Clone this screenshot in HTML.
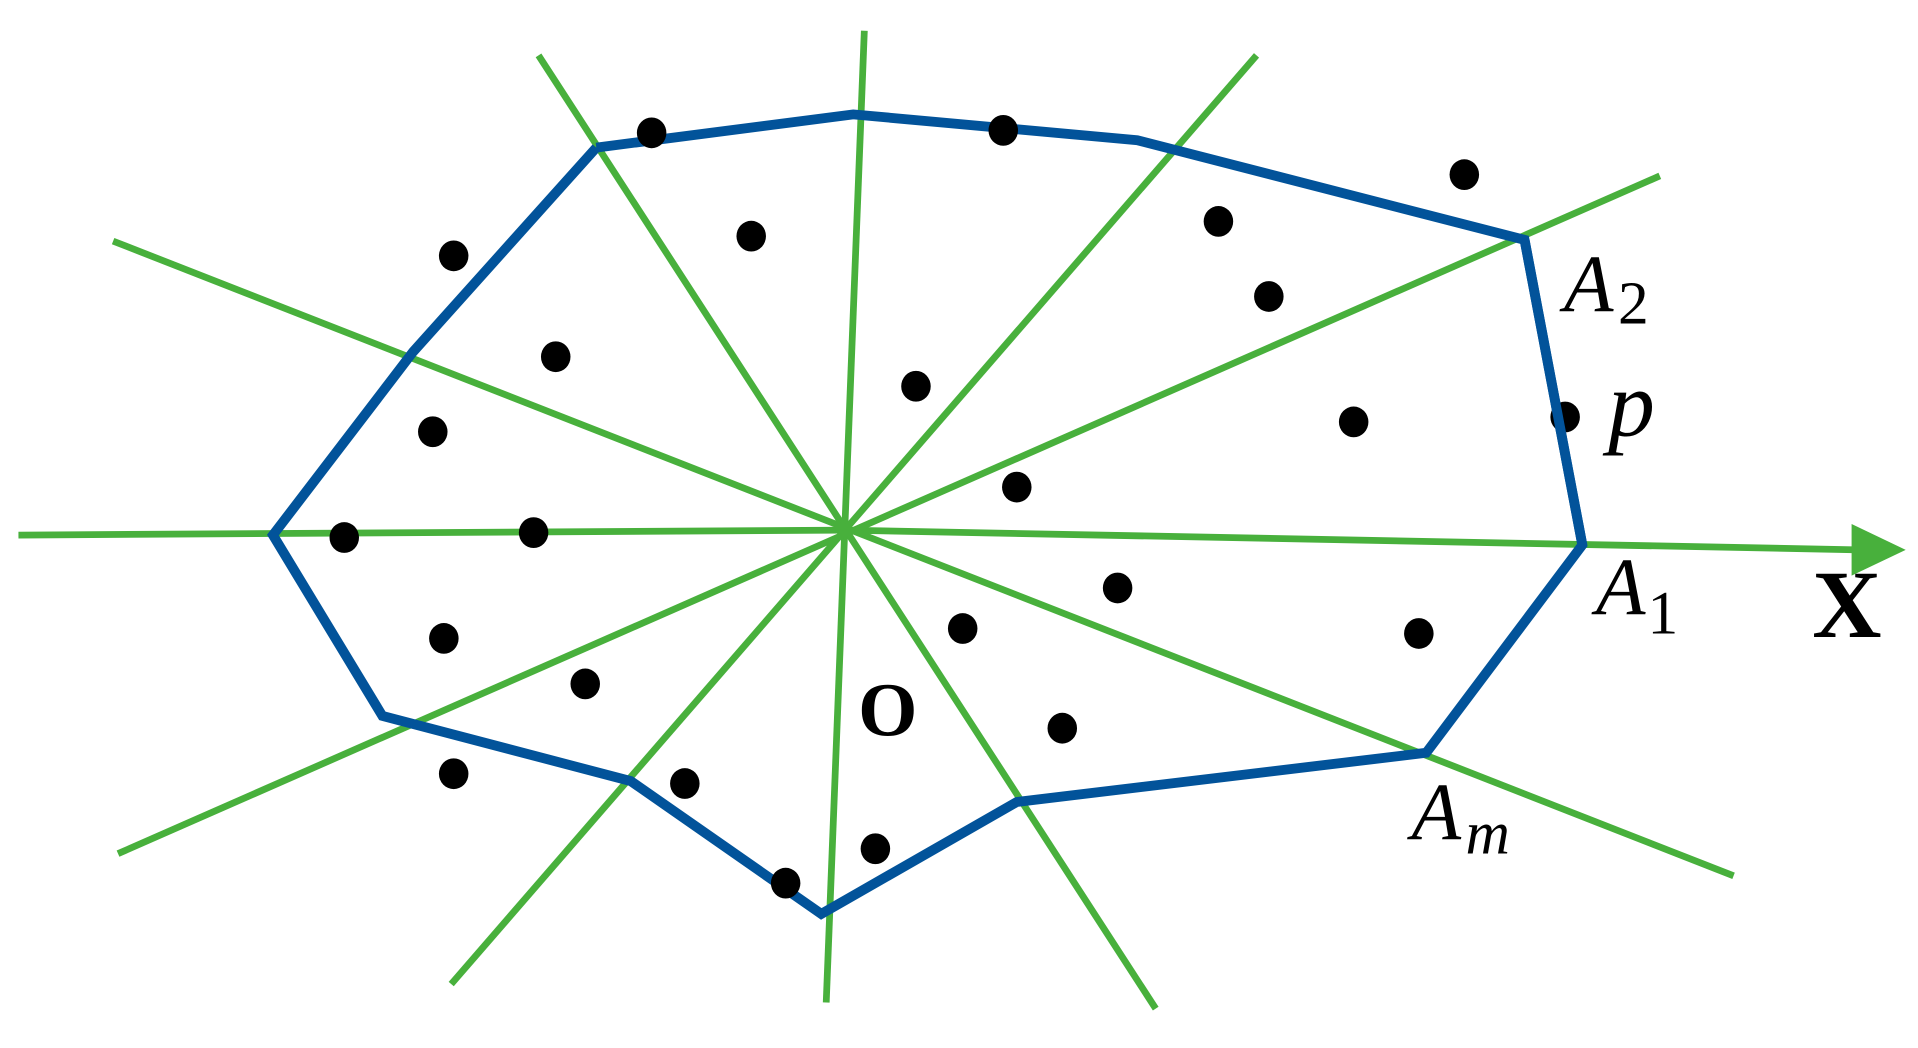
<!DOCTYPE html>
<html><head><meta charset="utf-8"><style>
html,body{margin:0;padding:0;background:#fff;}
svg{display:block;}
text{font-family:"Liberation Serif",serif;fill:#000;}
</style></head><body>
<svg width="1918" height="1048" viewBox="0 0 1560 852" preserveAspectRatio="none" xmlns="http://www.w3.org/2000/svg">
<g stroke="#48b03c" stroke-width="5.5" fill="none" stroke-linecap="butt">
<line x1="15" y1="435" x2="688" y2="431"/>
<line x1="688" y1="431" x2="1512" y2="447"/>
<line x1="703" y1="25" x2="672" y2="815"/>
<line x1="438" y1="45" x2="940" y2="820"/>
<line x1="1022" y1="45" x2="367" y2="800"/>
<line x1="92" y1="196" x2="1410" y2="712"/>
<line x1="1350" y1="143" x2="96" y2="694"/>
</g>
<polygon points="1506,426 1550,447 1506,468" fill="#48b03c"/>
<polyline points="485,120 694,93 925,114 1240,195 1287,443 1160,612 827,652 668,743 513,635 311,582 222,435 336,286 485,120" fill="none" stroke="#02539a" stroke-width="8" stroke-linejoin="miter"/>
<g fill="#000">
<ellipse cx="530" cy="108" rx="12" ry="12.5"/>
<ellipse cx="816" cy="106" rx="12" ry="12.5"/>
<ellipse cx="1191" cy="142" rx="12" ry="12.5"/>
<ellipse cx="611" cy="192" rx="12" ry="12.5"/>
<ellipse cx="991" cy="180" rx="12" ry="12.5"/>
<ellipse cx="369" cy="208" rx="12" ry="12.5"/>
<ellipse cx="1032" cy="241" rx="12" ry="12.5"/>
<ellipse cx="452" cy="290" rx="12" ry="12.5"/>
<ellipse cx="745" cy="314" rx="12" ry="12.5"/>
<ellipse cx="1101" cy="343" rx="12" ry="12.5"/>
<ellipse cx="1273" cy="339" rx="12" ry="12.5"/>
<ellipse cx="352" cy="351" rx="12" ry="12.5"/>
<ellipse cx="827" cy="396" rx="12" ry="12.5"/>
<ellipse cx="280" cy="437" rx="12" ry="12.5"/>
<ellipse cx="434" cy="433" rx="12" ry="12.5"/>
<ellipse cx="909" cy="478" rx="12" ry="12.5"/>
<ellipse cx="1154" cy="515" rx="12" ry="12.5"/>
<ellipse cx="783" cy="511" rx="12" ry="12.5"/>
<ellipse cx="361" cy="519" rx="12" ry="12.5"/>
<ellipse cx="476" cy="556" rx="12" ry="12.5"/>
<ellipse cx="864" cy="592" rx="12" ry="12.5"/>
<ellipse cx="369" cy="629" rx="12" ry="12.5"/>
<ellipse cx="557" cy="637" rx="12" ry="12.5"/>
<ellipse cx="712" cy="690" rx="12" ry="12.5"/>
<ellipse cx="639" cy="718" rx="12" ry="12.5"/>
</g>
<polyline points="1240,195 1287,443" fill="none" stroke="#02539a" stroke-width="8"/>
<text x="1272" y="253" font-size="66" font-style="italic">A</text>
<text x="1316" y="263" font-size="50">2</text>
<text x="1308" y="354" font-size="76" font-style="italic">p</text>
<text x="1298" y="499" font-size="66" font-style="italic">A</text>
<text x="1340" y="515" font-size="50">1</text>
<text x="1474" y="518" font-size="78" font-weight="bold">X</text>
<text x="698" y="598" font-size="62" font-weight="bold">O</text>
<text x="1148" y="682" font-size="66" font-style="italic">A</text>
<text x="1192" y="694" font-size="50" font-style="italic">m</text>
</svg>
</body></html>
